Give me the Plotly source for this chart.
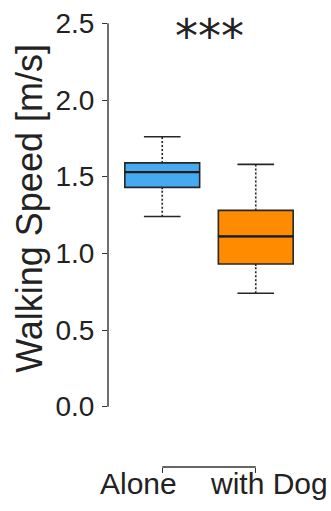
import plotly.graph_objects as go

groups = ["Alone", "with Dog"]
positions = [1, 2]
q1 = [1.43, 0.93]
median = [1.53, 1.11]
q3 = [1.59, 1.28]
lower = [1.24, 0.74]
upper = [1.76, 1.58]
colors = ["#46AAF0", "#FF8C00"]
yticks = [0.0, 0.5, 1.0, 1.5, 2.0, 2.5]
signif = "***"
ytitle = "Walking Speed [m/s]"

fig = go.Figure()
for i in range(len(groups)):
    fig.add_trace(go.Box(
        x=[positions[i]], q1=[q1[i]], median=[median[i]], q3=[q3[i]],
        lowerfence=[lower[i]], upperfence=[upper[i]],
        width=0.8, whiskerwidth=0.49, fillcolor=colors[i],
        line=dict(color="#262626", width=1.6), boxpoints=False,
        hoverinfo="skip", showlegend=False,
    ))
    # dotted look for whiskers: white dashes over the solid whisker stems
    for a, b in ((q3[i], upper[i]), (lower[i], q1[i])):
        fig.add_trace(go.Scatter(
            x=[positions[i], positions[i]], y=[a + 0.012, b - 0.012], mode="lines",
            line=dict(color="white", width=2.2, dash="2px,2px"),
            hoverinfo="skip", showlegend=False,
        ))
    # thicker median bar
    fig.add_trace(go.Scatter(
        x=[positions[i] - 0.4, positions[i] + 0.4], y=[median[i], median[i]], mode="lines",
        line=dict(color="#1a1a1a", width=2.2), hoverinfo="skip", showlegend=False,
    ))

font = "Liberation Sans, Arial, sans-serif"
fig.update_layout(
    width=331, height=511,
    margin=dict(l=108, r=21, t=8, b=44),
    paper_bgcolor="white", plot_bgcolor="white",
    font=dict(family=font, color="#222222"),
    xaxis=dict(range=[0.42, 2.58], tickvals=positions, showticklabels=False,
               ticks="outside", ticklen=5, tickcolor="#333333", tickwidth=1.2,
               showgrid=False, zeroline=False, showline=False,
               anchor="free", position=0),
    yaxis=dict(range=[-0.1, 2.6], domain=[45 / 459, 1], tickvals=yticks,
               tickformat=".1f", ticks="outside", ticklen=5, tickcolor="#333333",
               tickwidth=1.2, ticklabelstandoff=2,
               tickfont=dict(size=28, family=font, color="#222222"),
               showgrid=False, zeroline=False, showline=False),
    shapes=[
        dict(type="line", xref="paper", yref="y", x0=0, x1=0, y0=yticks[0], y1=yticks[-1],
             line=dict(color="#333333", width=1.4)),
        dict(type="line", xref="x", yref="paper", x0=positions[0], x1=positions[1], y0=0, y1=0,
             line=dict(color="#333333", width=1.4)),
    ],
    annotations=[
        dict(x=0, y=1.29, xref="paper", yref="y", text=ytitle, showarrow=False,
             textangle=-90, xanchor="center", yanchor="middle", xshift=-78,
             font=dict(size=36, family=font, color="#222222")),
        dict(x=positions[0], y=0, xref="x", yref="paper", text=groups[0], showarrow=False,
             xshift=-23.5, yanchor="top", yshift=2, font=dict(size=30, family=font, color="#222222")),
        dict(x=positions[1], y=0, xref="x", yref="paper", text=groups[1], showarrow=False,
             xshift=13, yanchor="top", yshift=2, font=dict(size=30, family=font, color="#222222")),
        dict(x=1.5, y=2.42, xref="x", yref="y", text=signif, showarrow=False,
             font=dict(size=46, family="DejaVu Sans", color="#222222")),
    ],
)
fig.write_html("out.html")
